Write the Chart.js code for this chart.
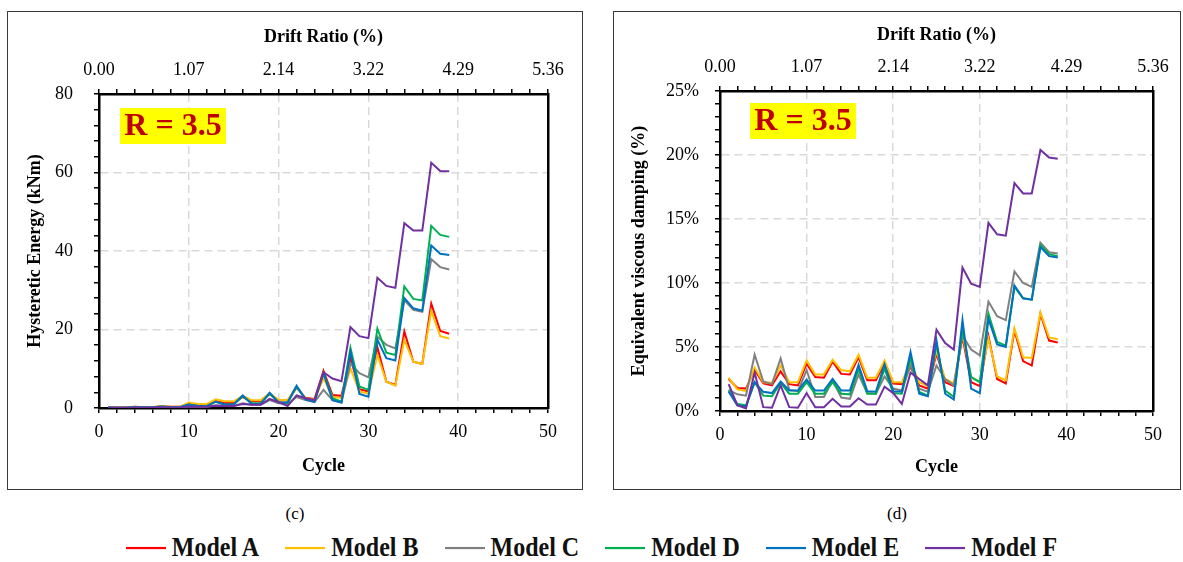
<!DOCTYPE html>
<html>
<head>
<meta charset="utf-8">
<script src="https://cdn.jsdelivr.net/npm/chart.js@4.4.1/dist/chart.umd.min.js"></script>
<style>
  html, body { margin: 0; padding: 0; background: #fff; }
  body { width: 1183px; height: 562px; position: relative; overflow: hidden; font-family: "Liberation Serif", "Times New Roman", serif; }
  .panel { position: absolute; top: 11px; height: 477px; border: 1px solid #3a3a3a; }
  #panelC { left: 7px; width: 574px; }
  #panelD { left: 613px; width: 566px; }
  .panel canvas { display: block; }
  .tag { position: absolute; top: 504px; font-size: 17px; color: #000; text-align: center; width: 60px; }
  #legend { position: absolute; left: 0; top: 534px; width: 1183px; display: flex; justify-content: center; align-items: center; }
  .item { display: flex; align-items: center; margin: 0 13px; font-weight: bold; font-size: 24px; color: #111; transform: scaleY(1.1); }
  .swatch { width: 40px; height: 2px; margin-right: 6px; }
</style>
</head>
<body>
<div class="panel" id="panelC"><canvas id="energyChart" width="574" height="477"></canvas></div>
<div class="panel" id="panelD"><canvas id="dampingChart" width="566" height="477"></canvas></div>
<div class="tag" style="left:265px">(c)</div>
<div class="tag" style="left:867px">(d)</div>
<div id="legend"></div>

<script>
// cycle numbers on the bottom axis
const cycles = [1, 2, 3, 4, 5, 6, 7, 8, 9, 10, 11, 12, 13, 14, 15, 16, 17, 18, 19, 20,
    21, 22, 23, 24, 25, 26, 27, 28, 29, 30, 31, 32, 33, 34, 35, 36, 37, 38, 39];
const modelNames = ['Model A', 'Model B', 'Model C', 'Model D', 'Model E', 'Model F'];
const driftLabels = ['0.00', '1.07', '2.14', '3.22', '4.29', '5.36'];

// (c) hysteretic energy, kNm
const energyA = [0.2, 0.1, 0.1, 0.3, 0.2, 0.2, 0.5, 0.3, 0.3, 1.2, 0.8, 0.8, 1.8, 1.3, 1.3, 2.8, 1.7, 1.7, 3.5, 2.0,
    1.9, 5.2, 2.6, 2.3, 9.5, 3.3, 3.1, 12.7, 4.8, 4.2, 15.5, 6.7, 5.9, 19.5, 11.8, 11.2, 26.6, 19.6, 18.9];
const energyB = [0.2, 0.1, 0.1, 0.3, 0.2, 0.2, 0.5, 0.3, 0.3, 1.4, 1.0, 1.0, 2.2, 1.7, 1.7, 3.1, 2.0, 2.0, 3.7, 2.1,
    2.0, 5.4, 2.5, 2.1, 7.6, 2.9, 2.5, 10.1, 4.2, 3.7, 13.5, 6.7, 5.7, 17.4, 11.8, 11.2, 24.7, 18.3, 17.7];
const energyC = [0.05, 0.05, 0.05, 0.1, 0.1, 0.1, 0.2, 0.1, 0.1, 0.4, 0.3, 0.3, 0.7, 0.5, 0.5, 1.2, 0.8, 0.8, 2.0, 1.2,
    1.0, 2.8, 2.0, 1.5, 4.6, 2.0, 1.4, 11.4, 8.9, 7.8, 18.2, 16.1, 15.2, 27.5, 25.0, 24.5, 37.9, 35.9, 35.3];
const energyD = [0.1, 0.05, 0.05, 0.2, 0.1, 0.1, 0.4, 0.2, 0.2, 0.9, 0.5, 0.5, 1.6, 0.9, 0.9, 3.0, 1.2, 1.2, 3.7, 1.4,
    1.3, 5.4, 2.2, 2.0, 8.9, 2.5, 1.6, 15.3, 5.5, 4.6, 20.2, 14.1, 13.5, 31.0, 27.8, 27.4, 46.4, 44.1, 43.6];
const energyE = [0.1, 0.05, 0.05, 0.2, 0.1, 0.1, 0.4, 0.2, 0.2, 0.9, 0.5, 0.5, 1.6, 0.9, 0.9, 3.2, 1.0, 1.0, 3.9, 1.4,
    1.4, 5.7, 2.2, 1.6, 8.9, 2.0, 1.4, 14.4, 3.6, 2.9, 17.4, 12.7, 12.1, 28.0, 25.4, 24.8, 41.4, 39.3, 39.0];
const energyF = [0.05, 0.05, 0.05, 0.1, 0.1, 0.1, 0.2, 0.15, 0.15, 0.4, 0.3, 0.3, 0.6, 0.5, 0.5, 1.0, 0.8, 0.8, 2.3, 1.5,
    0.5, 3.2, 2.5, 2.0, 9.1, 7.5, 6.8, 20.6, 18.3, 17.8, 33.2, 31.1, 30.6, 47.1, 45.2, 45.2, 62.5, 60.4, 60.3];

// (d) equivalent viscous damping, %
const dampingA = [2.5, 1.8, 1.75, 3.2, 2.15, 2.0, 3.1, 2.1, 2.0, 3.7, 2.65, 2.6, 3.85, 2.9, 2.85, 4.2, 2.4, 2.4, 3.7, 2.15,
    2.1, 3.45, 2.0, 1.75, 4.5, 2.25, 1.95, 5.8, 2.25, 1.95, 5.85, 2.5, 2.15, 6.3, 3.9, 3.55, 7.6, 5.5, 5.35];
const dampingB = [2.6, 1.7, 1.55, 3.4, 2.25, 2.2, 3.55, 2.25, 2.25, 3.95, 2.85, 2.85, 4.0, 3.2, 3.1, 4.4, 2.6, 2.6, 3.95, 2.25,
    2.25, 3.8, 2.25, 1.95, 4.7, 2.5, 2.15, 6.05, 2.65, 2.25, 5.65, 2.7, 2.4, 6.45, 4.2, 4.15, 7.7, 5.75, 5.6];
const dampingC = [1.65, 1.3, 1.2, 4.4, 2.3, 2.1, 4.1, 1.65, 1.55, 3.2, 1.1, 1.1, 2.4, 1.05, 0.95, 2.85, 1.4, 1.35, 2.7, 1.75,
    1.6, 3.6, 1.75, 1.5, 3.55, 2.5, 2.0, 5.9, 4.8, 4.35, 8.55, 7.4, 7.1, 10.9, 10.0, 9.7, 13.15, 12.4, 12.3];
const dampingD = [1.6, 0.55, 0.45, 2.25, 1.2, 1.15, 2.2, 1.35, 1.35, 2.25, 1.35, 1.35, 2.25, 1.35, 1.3, 3.3, 1.35, 1.35, 3.3, 1.4,
    1.35, 4.2, 1.5, 1.2, 5.25, 1.6, 1.1, 6.45, 2.65, 2.25, 7.6, 5.4, 5.1, 9.7, 8.8, 8.7, 12.95, 12.25, 12.1];
const dampingE = [1.5, 0.45, 0.35, 2.25, 1.5, 1.4, 2.3, 1.6, 1.6, 2.45, 1.6, 1.6, 2.5, 1.6, 1.6, 3.6, 1.55, 1.5, 3.65, 1.55,
    1.5, 4.6, 1.35, 1.15, 5.5, 1.35, 0.9, 7.1, 1.75, 1.4, 7.2, 5.2, 5.0, 9.8, 8.8, 8.7, 12.8, 12.1, 12.0];
const dampingF = [2.1, 0.45, 0.2, 3.0, 0.3, 0.25, 2.0, 0.3, 0.25, 1.4, 0.3, 0.3, 0.95, 0.35, 0.35, 1.0, 0.5, 0.5, 1.9, 1.4,
    0.55, 3.0, 2.5, 2.0, 6.35, 5.3, 4.8, 11.2, 9.95, 9.7, 14.7, 13.8, 13.7, 17.8, 17.0, 17.0, 20.4, 19.8, 19.7];

const COLORS = ['#ff0000', '#ffc000', '#808080', '#00b050', '#0070c0', '#7030a0'];
const SERIF = '"Liberation Serif", "Times New Roman", serif';
const GRID = '#d9d9d9';

Chart.defaults.font.family = SERIF;
Chart.defaults.color = '#000';

// yellow "R = 3.5" tag in the plot corner
const rTag = {
    id: 'rTag',
    beforeDatasetsDraw(chart, args, opts) {
        const { ctx, chartArea } = chart;
        const x = chartArea.left + opts.dx;
        const y = chartArea.top + opts.dy;
        ctx.save();
        ctx.fillStyle = '#ffff00';
        ctx.fillRect(x, y, 106, 36);
        ctx.fillStyle = '#c00000';
        ctx.font = 'bold 32px ' + SERIF;
        ctx.textAlign = 'center';
        ctx.textBaseline = 'middle';
        ctx.fillText(opts.text, x + 53, y + 19);
        ctx.restore();
    }
};

function tickFont() { return { size: 18, family: SERIF }; }
function titleFont() { return { size: 18, weight: 'bold', family: SERIF }; }

function buildChart(canvasId, series, cfg) {
    const datasets = series.map((values, i) => ({
        label: modelNames[i],
        data: values.map((v, k) => ({ x: cycles[k], y: v })),
        borderColor: COLORS[i],
        borderWidth: 2,
        pointRadius: 0,
        tension: 0,
        fill: false,
        order: series.length - i
    }));

    const axisBorder = { color: '#000', width: 2.5, dash: [8, 5] };
    const tickGrid = major => ({
        color: c => (c.tick && c.tick.value % major === 0 ? GRID : 'rgba(0,0,0,0)'),
        lineWidth: 1.5,
        tickColor: '#000',
        tickWidth: 1.5,
        tickLength: 5
    });

    return new Chart(document.getElementById(canvasId), {
        type: 'line',
        data: { datasets },
        plugins: [rTag],
        options: {
            responsive: false,
            animation: false,
            layout: { padding: 0 },
            plugins: {
                legend: { display: false },
                tooltip: { enabled: false },
                rTag: { text: 'R = 3.5', dx: cfg.tagDx, dy: cfg.tagDy }
            },
            scales: {
                x: {
                    type: 'linear', position: 'bottom', min: 0, max: 50,
                    afterFit: s => { s.height = cfg.bottomH; },
                    ticks: { stepSize: 2, autoSkip: false, maxRotation: 0, padding: 8, font: tickFont(),
                        callback: v => (v % 10 === 0 ? String(v) : '') },
                    grid: tickGrid(10),
                    border: axisBorder,
                    title: { display: true, text: 'Cycle', font: titleFont(), padding: { top: 0, bottom: cfg.cyclePad } }
                },
                x2: {
                    type: 'linear', position: 'top', min: 0, max: 50,
                    afterFit: s => { s.height = cfg.topH; },
                    ticks: { stepSize: 2, autoSkip: false, maxRotation: 0, padding: 8, font: tickFont(),
                        callback: v => (v % 10 === 0 ? driftLabels[v / 10] : '') },
                    grid: Object.assign(tickGrid(10), { drawOnChartArea: false }),
                    border: axisBorder,
                    title: { display: true, text: 'Drift Ratio (%)', font: titleFont(), padding: { top: cfg.driftPad, bottom: 0 } }
                },
                y: {
                    type: 'linear', position: 'left', min: 0, max: cfg.yMax,
                    afterFit: s => { s.width = cfg.leftW; },
                    ticks: { stepSize: cfg.yMinor, autoSkip: false, padding: cfg.yPad, font: tickFont(),
                        callback: v => (v % cfg.yMajor === 0 ? v + cfg.ySuffix : '') },
                    grid: tickGrid(cfg.yMajor),
                    border: axisBorder,
                    title: { display: true, text: cfg.yTitle, font: titleFont(), padding: { top: cfg.yTitlePad, bottom: 0 } }
                },
                y2: {
                    type: 'linear', position: 'right', min: 0, max: 1,
                    afterFit: s => { s.width = cfg.rightW; },
                    ticks: { display: false },
                    grid: { drawOnChartArea: false, drawTicks: false },
                    border: { color: '#000', width: 2.5 }
                }
            }
        }
    });
}

buildChart('energyChart', [energyA, energyB, energyC, energyD, energyE, energyF], {
    yMax: 80, yMinor: 4, yMajor: 20, ySuffix: '', yTitle: 'Hysteretic Energy (kNm)',
    leftW: 91, rightW: 34, topH: 82, bottomH: 81, yPad: 21, yTitlePad: 17,
    cyclePad: 12, driftPad: 15, tagDx: 21, tagDy: 14
});

buildChart('dampingChart', [dampingA, dampingB, dampingC, dampingD, dampingE, dampingF], {
    yMax: 25, yMinor: 1, yMajor: 5, ySuffix: '%', yTitle: 'Equivalent viscous damping (%)',
    leftW: 106, rightW: 27, topH: 79, bottomH: 78, yPad: 16, yTitlePad: 15,
    cyclePad: 11, driftPad: 13, tagDx: 30, tagDy: 12
});

// shared legend under both panels
const legend = document.getElementById('legend');
modelNames.forEach((name, i) => {
    const item = document.createElement('div');
    item.className = 'item';
    const swatch = document.createElement('span');
    swatch.className = 'swatch';
    swatch.style.background = COLORS[i];
    item.appendChild(swatch);
    item.appendChild(document.createTextNode(name));
    legend.appendChild(item);
});
</script>
</body>
</html>
